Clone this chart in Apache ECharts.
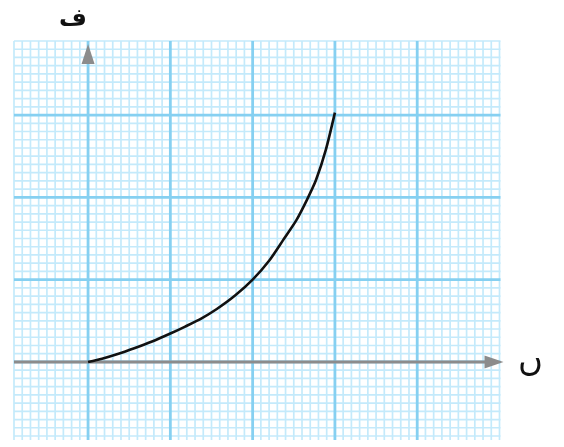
<!DOCTYPE html>
<html>
<head>
<meta charset="utf-8">
<script src="https://cdn.jsdelivr.net/npm/echarts@6/dist/echarts.min.js"></script>
<style>
  html, body { margin: 0; padding: 0; background: #ffffff; }
  #chart { width: 564px; height: 447px; }
</style>
</head>
<body>
<div id="chart"></div>
<script>
// Curve samples (horizontal: time, vertical: distance), in large-grid units
const timeValues     = [0, 0.17, 0.37, 0.57, 0.77, 1.0, 1.18, 1.38, 1.56, 1.79, 2.0, 2.2, 2.37, 2.53, 2.66, 2.77, 2.89, 3.0];
const distanceValues = [0, 0.04, 0.10, 0.17, 0.245, 0.345, 0.43, 0.53, 0.64, 0.81, 1.0, 1.23, 1.48, 1.72, 1.97, 2.21, 2.58, 3.03];

// Extent of the graph paper (large squares), split into tenths
const xRange = [-0.9, 5.0];
const yRange = [-0.9, 3.9];
const subdivisions = 10;

// Axis letters
const verticalAxisName = 'ف';
const horizontalAxisName = 'ں';

const curveData = timeValues.map((t, i) => [t, distanceValues[i]]);

const chart = echarts.init(document.getElementById('chart'), null, { renderer: 'canvas' });

const minorColor = '#c4eafb';
const majorColor = '#86d0f1';
const axisGray = '#8c8c8c';

// Graph paper plus the two arrowed axes, laid out through the chart's own scales
function renderPaper(params, api) {
  const children = [];
  const left = api.coord([xRange[0], 0])[0];
  const right = api.coord([xRange[1], 0])[0];
  const top = api.coord([0, yRange[1]])[1];
  const bottom = api.coord([0, yRange[0]])[1] + 4;
  const minors = [], majors = [];

  const iStart = Math.round(xRange[0] * subdivisions), iEnd = Math.round(xRange[1] * subdivisions);
  for (let i = iStart; i <= iEnd; i++) {
    const x = api.coord([i / subdivisions, 0])[0];
    const isMajor = i % subdivisions === 0 && i !== iEnd;
    (isMajor ? majors : minors).push({ x1: x, y1: top, x2: x, y2: bottom });
  }
  const jStart = Math.round(yRange[0] * subdivisions), jEnd = Math.round(yRange[1] * subdivisions);
  for (let j = jStart; j <= jEnd; j++) {
    const y = api.coord([0, j / subdivisions])[1];
    const isMajor = j % subdivisions === 0;
    (isMajor ? majors : minors).push({ x1: left, y1: y, x2: right + 1, y2: y });
  }
  minors.forEach(s => children.push({ type: 'line', shape: s, style: { stroke: minorColor, lineWidth: 1.7 } }));
  majors.forEach(s => children.push({ type: 'line', shape: s, style: { stroke: majorColor, lineWidth: 2.8 } }));

  // horizontal axis with arrow
  const o = api.coord([0, 0]);
  const tipX = right + 4;
  children.push({ type: 'line', shape: { x1: left, y1: o[1], x2: tipX - 14, y2: o[1] },
    style: { stroke: axisGray, lineWidth: 3 } });
  children.push({ type: 'polygon', shape: { points: [[tipX, o[1]], [tipX - 19, o[1] - 6.5], [tipX - 19, o[1] + 6.5]] },
    style: { fill: axisGray } });

  // vertical axis arrowhead
  const tipY = top + 3;
  children.push({ type: 'polygon', shape: { points: [[o[0], tipY], [o[0] - 6.5, tipY + 20], [o[0] + 6.5, tipY + 20]] },
    style: { fill: axisGray } });

  return { type: 'group', children };
}

chart.setOption({
  animation: false,
  backgroundColor: '#ffffff',
  grid: { left: 14, right: 64.5, top: 41, bottom: 11, containLabel: false },
  xAxis: {
    type: 'value', min: xRange[0], max: xRange[1],
    axisLine: { show: false }, axisTick: { show: false },
    axisLabel: { show: false }, splitLine: { show: false }
  },
  yAxis: {
    type: 'value', min: yRange[0], max: yRange[1],
    axisLine: { show: false }, axisTick: { show: false },
    axisLabel: { show: false }, splitLine: { show: false }
  },
  graphic: [
    { type: 'text', left: 59, top: 8,
      style: { text: verticalAxisName, font: 'bold 24px "DejaVu Sans"', fill: '#111' } },
    { type: 'text', left: 518, top: 345,
      style: { text: horizontalAxisName, font: '34px "DejaVu Sans"', fill: '#111' } }
  ],
  series: [
    {
      type: 'custom',
      clip: false,
      silent: true,
      z: 1,
      data: [[0, 0]],
      renderItem: renderPaper
    },
    {
      type: 'line',
      z: 5,
      data: curveData,
      smooth: 0.25,
      showSymbol: false,
      symbol: 'none',
      lineStyle: { color: '#111111', width: 2.6 }
    }
  ]
});
</script>
</body>
</html>
